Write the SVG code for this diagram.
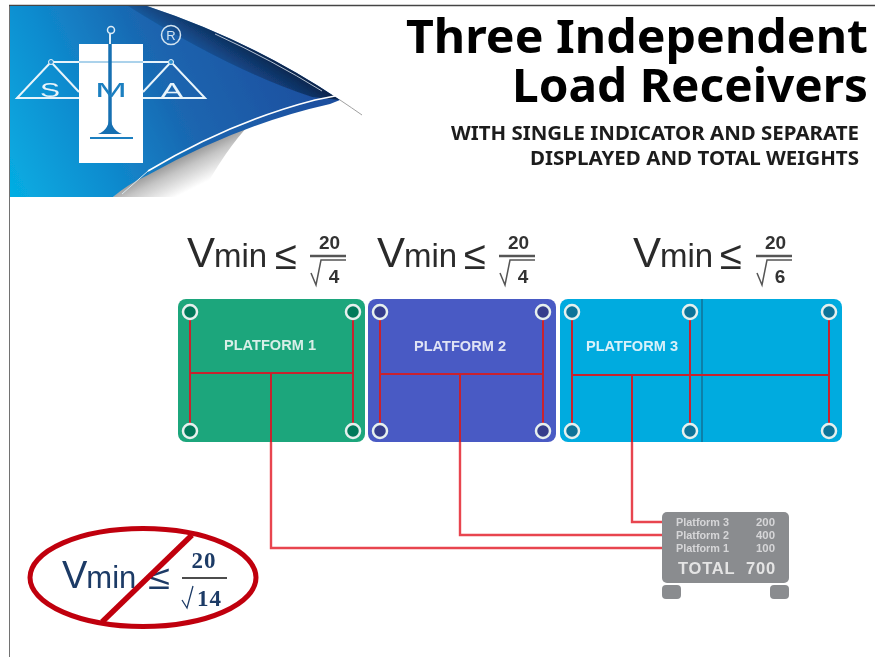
<svg xmlns="http://www.w3.org/2000/svg" width="875" height="657" viewBox="0 0 875 657">
<style>
text{font-family:"Liberation Sans",Arial,sans-serif}
.title{font-family:"Noto Sans","DejaVu Sans",sans-serif;font-weight:700;font-size:47px;fill:#000;text-anchor:end}
.sub{font-family:"Noto Sans","DejaVu Sans",sans-serif;font-weight:700;font-size:19.5px;fill:#1c1c1c;text-anchor:end}
.v{font-size:42px;fill:#2b2b2b}.m{font-size:33px;fill:#2b2b2b}.le{font-size:40px;fill:#2b2b2b}
.num{font-size:19px;font-weight:700;fill:#333;text-anchor:middle}
.plat{font-size:14.5px;font-weight:700;fill:#d8efe8;text-anchor:middle}
.red{fill:none;stroke:#c8202f;stroke-width:2}
.wire{fill:none;stroke:#e8444f;stroke-width:2.400}
.ind{font-size:10px;font-weight:700;fill:#d6d6d8}
.logo{fill:none;stroke:#e8f4fb;stroke-width:2}
.hole{stroke:#e6f0ee;stroke-width:2.500}
.frac{stroke:#555;fill:none}
</style>
<defs>
<filter id="soft" x="0" y="0" width="100%" height="100%"><feGaussianBlur stdDeviation="0.4"/></filter>
<linearGradient id="bn" gradientUnits="userSpaceOnUse" x1="10" y1="197" x2="300" y2="60">
<stop offset="0" stop-color="#05aee3"/><stop offset="0.3" stop-color="#0f8ccf"/><stop offset="0.6" stop-color="#1a66b0"/><stop offset="1" stop-color="#1b4f9f"/>
</linearGradient>
<linearGradient id="dk" gradientUnits="userSpaceOnUse" x1="255" y1="45" x2="232" y2="82">
<stop offset="0" stop-color="#0b2347"/><stop offset="1" stop-color="#0b2a55" stop-opacity="0"/>
</linearGradient>
<linearGradient id="pl" gradientUnits="userSpaceOnUse" x1="170" y1="150" x2="190" y2="190">
<stop offset="0" stop-color="#6f6f6f"/><stop offset="0.5" stop-color="#c4c4c4"/><stop offset="1" stop-color="#fff"/>
</linearGradient>
</defs>
<g filter="url(#soft)">
<path d="M9 657V5.500H875" fill="none" stroke="#444" stroke-width="1.500"/>
<g id="banner">
<path d="M113 197Q125 183 148 174Q190 148 250 124Q225 150 200 197Z" fill="url(#pl)"/>
<path d="M10 6H147Q250 40 340 100L330 104Q240 124 148 175Q128 184 113 197H10Z" fill="url(#bn)"/>
<path d="M128 6H147Q250 40 340 100L312 97Q230 70 128 6Z" fill="url(#dk)"/>
<path d="M148 171Q230 122 315 100L335 96" fill="none" stroke="#fff" stroke-width="1.500"/>
<path d="M148 171L122 194" fill="none" stroke="#d8e8f0" stroke-width="1"/>
<path d="M215 34Q272 60 322 91" fill="none" stroke="#dfe9f2" stroke-width="0.800"/>
<path d="M340 100Q352 108 362 115" fill="none" stroke="#888" stroke-width="0.800"/>
</g>
<g id="logo">
<rect x="79" y="44" width="64" height="119" fill="#fff"/>
<path d="M51 62H79M143 62H171" class="logo"/>
<path d="M79 62H143" stroke="#8fc3e4" stroke-width="1.500" fill="none"/>
<path d="M51 62L17 98H79M51 62L79 92M171 62L205 98H143M171 62L143 92" class="logo"/>
<circle cx="51" cy="62" r="2.500" fill="#2a8fcf" stroke="#e8f4fb"/><circle cx="171" cy="62" r="2.500" fill="#2a8fcf" stroke="#e8f4fb"/>
<path d="M110 35V128" stroke="#1870b2" stroke-width="3.500" fill="none"/>
<path d="M110 112Q110 130 98 134H122Q110 130 110 112Z" fill="#1870b2"/>
<path d="M90 138H133" stroke="#1b7fc0" stroke-width="2" fill="none"/>
<circle cx="111" cy="30" r="3.500" fill="none" stroke="#dcecf7" stroke-width="1.500"/>
<path d="M110 34V44" stroke="#dcecf7" stroke-width="2" fill="none"/>
<circle cx="171" cy="35" r="9.500" fill="none" stroke="#d3e3f0" stroke-width="1.500"/>
<text x="171" y="40" font-size="13" fill="#d3e3f0" text-anchor="middle">R</text>
<text x="50" y="97" font-size="20" fill="#e8f4fb" text-anchor="middle" textLength="20" lengthAdjust="spacingAndGlyphs">S</text>
<text x="111" y="97" font-size="21" fill="#1b7fc0" text-anchor="middle" textLength="32" lengthAdjust="spacingAndGlyphs">M</text>
<text x="172" y="97" font-size="20" fill="#e8f4fb" text-anchor="middle" textLength="22" lengthAdjust="spacingAndGlyphs">A</text>
</g>
<g id="title">
<text class="title" x="868" y="53" textLength="462" lengthAdjust="spacingAndGlyphs">Three Independent</text>
<text class="title" x="868" y="102" textLength="356" lengthAdjust="spacingAndGlyphs">Load Receivers</text>
<text class="sub" x="859" y="140" textLength="408" lengthAdjust="spacingAndGlyphs">WITH SINGLE INDICATOR AND SEPARATE</text>
<text class="sub" x="859" y="165" textLength="329" lengthAdjust="spacingAndGlyphs">DISPLAYED AND TOTAL WEIGHTS</text>
</g>
<g id="formula-1">
<text x="187" y="267"><tspan class="v">V</tspan><tspan class="m" dx="-1">min</tspan></text><text class="le" x="275" y="269" textLength="22" lengthAdjust="spacingAndGlyphs">≤</text>
<text class="num" x="329.500" y="249">20</text><path class="frac" d="M310 256H346" stroke-width="2.500"/>
<path class="frac" d="M311 273L316 285L321 260H346" stroke-width="1.500"/><text class="num" x="334" y="283">4</text>
</g>
<g id="formula-2">
<text x="377" y="267"><tspan class="v">V</tspan><tspan class="m" dx="-1">min</tspan></text><text class="le" x="464" y="269" textLength="22" lengthAdjust="spacingAndGlyphs">≤</text>
<text class="num" x="518.500" y="249">20</text><path class="frac" d="M499 256H535" stroke-width="2.500"/>
<path class="frac" d="M500 273L505 285L510 260H535" stroke-width="1.500"/><text class="num" x="523" y="283">4</text>
</g>
<g id="formula-3">
<text x="633" y="267"><tspan class="v">V</tspan><tspan class="m" dx="-1">min</tspan></text><text class="le" x="720" y="269" textLength="22" lengthAdjust="spacingAndGlyphs">≤</text>
<text class="num" x="775.500" y="249">20</text><path class="frac" d="M756 256H792" stroke-width="2.500"/>
<path class="frac" d="M757 273L762 285L767 260H792" stroke-width="1.500"/><text class="num" x="780" y="283">6</text>
</g>
<g id="platform-1">
<rect x="178" y="299" width="187" height="143" rx="8" fill="#1fa67c"/>
<text class="plat" x="270" y="350" textLength="92" lengthAdjust="spacingAndGlyphs">PLATFORM 1</text>
</g>
<g id="platform-2">
<rect x="368" y="299" width="188" height="143" rx="8" fill="#4a5ac4"/>
<text class="plat" x="460" y="351" textLength="92" lengthAdjust="spacingAndGlyphs" style="fill:#dfe3f5">PLATFORM 2</text>
</g>
<g id="platform-3">
<rect x="560" y="299" width="282" height="143" rx="8" fill="#05abdf"/>
<path d="M702 299V442" stroke="#0a7fa8" stroke-width="2"/>
<text class="plat" x="632" y="351" textLength="92" lengthAdjust="spacingAndGlyphs" style="fill:#d8f1fa">PLATFORM 3</text>
</g>
<g id="connectors">
<path class="red" d="M190 312V431M353 312V431M190 373H353M380 312V431M543 312V431M380 374H543M572 312V431M690 312V431M829 312V431M572 375H829"/>
<path class="red" d="M271 373V442M460 374V442M632 375V442"/>
<path class="wire" d="M271 442V548H663M460 442V535H663M632 442V522H663"/>
</g>
<g id="holes">
<g fill="#06795a" class="hole"><circle cx="190" cy="312" r="7"/><circle cx="353" cy="312" r="7"/><circle cx="190" cy="431" r="7"/><circle cx="353" cy="431" r="7"/></g>
<g fill="#343d8c" class="hole"><circle cx="380" cy="312" r="7"/><circle cx="543" cy="312" r="7"/><circle cx="380" cy="431" r="7"/><circle cx="543" cy="431" r="7"/></g>
<g fill="#0a7398" class="hole"><circle cx="572" cy="312" r="7"/><circle cx="690" cy="312" r="7"/><circle cx="829" cy="312" r="7"/><circle cx="572" cy="431" r="7"/><circle cx="690" cy="431" r="7"/><circle cx="829" cy="431" r="7"/></g>
</g>
<g id="indicator">
<rect x="662" y="512" width="127" height="71" rx="5" fill="#8a8c8f"/>
<rect x="662" y="585" width="19" height="14" rx="4" fill="#8a8c8f"/>
<rect x="770" y="585" width="19" height="14" rx="4" fill="#8a8c8f"/>
<text class="ind" x="676" y="526" textLength="53" lengthAdjust="spacingAndGlyphs">Platform 3</text><text class="ind" x="756" y="526" textLength="19" lengthAdjust="spacingAndGlyphs">200</text>
<text class="ind" x="676" y="539" textLength="53" lengthAdjust="spacingAndGlyphs">Platform 2</text><text class="ind" x="756" y="539" textLength="19" lengthAdjust="spacingAndGlyphs">400</text>
<text class="ind" x="676" y="552" textLength="53" lengthAdjust="spacingAndGlyphs">Platform 1</text><text class="ind" x="756" y="552" textLength="19" lengthAdjust="spacingAndGlyphs">100</text>
<text x="678" y="574" font-size="16.500" font-weight="700" fill="#e4e4e4" letter-spacing="0.800">TOTAL</text>
<text x="746" y="574" font-size="16.500" font-weight="700" fill="#e4e4e4" letter-spacing="0.800">700</text>
</g>
<g id="rejected-formula">
<text x="62" y="588" fill="#1c3a66"><tspan font-size="38">V</tspan><tspan font-size="31" dx="-1">min</tspan></text>
<text x="148" y="589" font-size="34" fill="#1c3a66" textLength="22" lengthAdjust="spacingAndGlyphs">≤</text>
<text x="204" y="568" font-size="23" font-weight="700" fill="#1c3a66" text-anchor="middle" letter-spacing="1" style="font-family:'Liberation Serif',serif">20</text>
<path d="M182 578H227" stroke="#111" stroke-width="1.500"/>
<text x="197" y="606" font-size="23" font-weight="700" fill="#1c3a66" letter-spacing="1" style="font-family:'Liberation Serif',serif">14</text>
<path d="M182 600L187 608L193 586" fill="none" stroke="#1c3a66" stroke-width="1.300"/>
<ellipse cx="143" cy="577.500" rx="113" ry="49" fill="none" stroke="#c00010" stroke-width="5"/>
<path d="M192 535L102 622" stroke="#c00010" stroke-width="5.500"/>
</g>
</g>
</svg>
